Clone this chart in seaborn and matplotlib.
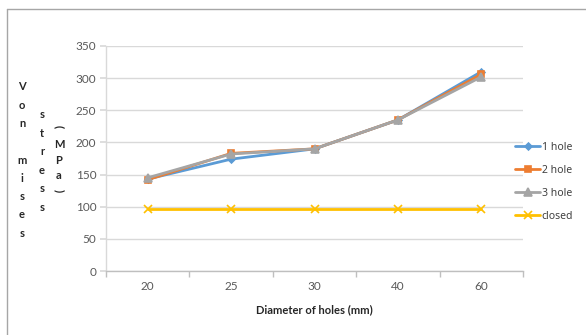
import matplotlib
matplotlib.use("Agg")
import matplotlib.pyplot as plt
from matplotlib.lines import Line2D
import seaborn as sns
import pandas as pd

categories = ["20", "25", "30", "40", "60"]
one_hole = [143, 174, 190, 235, 310]
two_hole = [142, 183, 190, 235, 306]
three_hole = [145, 182, 190, 235, 302]
closed = [96, 96, 96, 96, 96]
series_names = ["1 hole", "2 hole", "3 hole", "closed"]
y_ticks = [0, 50, 100, 150, 200, 250, 300, 350]

sns.set_theme(style="white")
plt.rcParams["font.family"] = ["Lato", "DejaVu Sans"]

W, H = 586, 335
fig = plt.figure(figsize=(W / 100, H / 100), dpi=100)
ax = fig.add_axes([106 / W, 1 - 271 / H, (523 - 106) / W, (271 - 46) / H])

df = pd.DataFrame({
    "d": categories * 4,
    "v": one_hole + two_hole + three_hole + closed,
    "s": sum([[n] * len(categories) for n in series_names], []),
})

colors = {"1 hole": "#5B9BD5", "2 hole": "#ED7D31", "3 hole": "#A5A5A5", "closed": "#FFC000"}
markers = {"1 hole": "D", "2 hole": "s", "3 hole": "^", "closed": "x"}
msize = {"1 hole": 3.5, "2 hole": 5, "3 hole": 5.5, "closed": 6}

for name in series_names:
    sub = df[df["s"] == name]
    sns.lineplot(data=sub, x="d", y="v", ax=ax, color=colors[name], marker=markers[name],
                 markersize=msize[name], linewidth=2, label=name, sort=False,
                 markeredgecolor=colors[name], markeredgewidth=1.2)

ax.set_xlim(-0.5, len(categories) - 0.5)
ax.set_ylim(0, 350)
ax.set_yticks(y_ticks)
ax.grid(axis="y", color="#d9d9d9", linewidth=1)
ax.set_axisbelow(True)
for s in ["top", "right"]:
    ax.spines[s].set_visible(False)
ax.spines["left"].set_color("#d9d9d9")
ax.spines["bottom"].set_color("#bfbfbf")
ax.spines["left"].set_linewidth(1)
ax.spines["bottom"].set_linewidth(1)

ax.tick_params(axis="y", which="major", length=4, color="#d9d9d9", labelsize=8.5,
               labelcolor="#595959", pad=3, left=True)
ax.tick_params(axis="x", which="major", length=0, labelsize=8.5, labelcolor="#595959", pad=7)
ax.set_xticks([i - 0.5 for i in range(len(categories) + 1)], minor=True)
ax.tick_params(axis="x", which="minor", length=4, color="#bfbfbf", bottom=True)

ax.set_xlabel("Diameter of holes (mm)", fontsize=8, fontweight="bold", color="#262626", labelpad=9)
ax.set_ylabel("")

lab = dict(ha="center", va="center", fontsize=8, fontweight="bold", color="#262626")
# stacked vertical y label
fig.text(22 / W, 1 - 160 / H, "V\no\nn\n\nm\ni\ns\ne\ns", linespacing=1.81, **lab)
fig.text(42 / W, 1 - 161 / H, "s\nt\nr\ne\ns\ns", linespacing=1.85, **lab)
fig.text(59 / W, 1 - 160 / H, "M\nP\na", linespacing=1.5, **lab)
fig.text(59 / W, 1 - 127 / H, "(", rotation=-90, **lab)
fig.text(59 / W, 1 - 191 / H, ")", rotation=-90, **lab)

leg = ax.legend(loc="center left", bbox_to_anchor=(510 / W, 1 - 182 / H),
                bbox_transform=fig.transFigure, frameon=False, fontsize=7.5,
                handlelength=2.4, handletextpad=0.15, labelspacing=1.15, borderpad=0)
for t in leg.get_texts():
    t.set_color("#404040")
    t.set_fontfamily(["Noto Sans", "DejaVu Sans"])

# figure border
fig.add_artist(Line2D([7 / W, 7 / W], [0, 1 - 9 / H], transform=fig.transFigure, color="#a6a6a6", linewidth=1))
fig.add_artist(Line2D([7 / W, 1], [1 - 9 / H, 1 - 9 / H], transform=fig.transFigure, color="#a6a6a6", linewidth=1))

fig.savefig("out.png", dpi=100)
